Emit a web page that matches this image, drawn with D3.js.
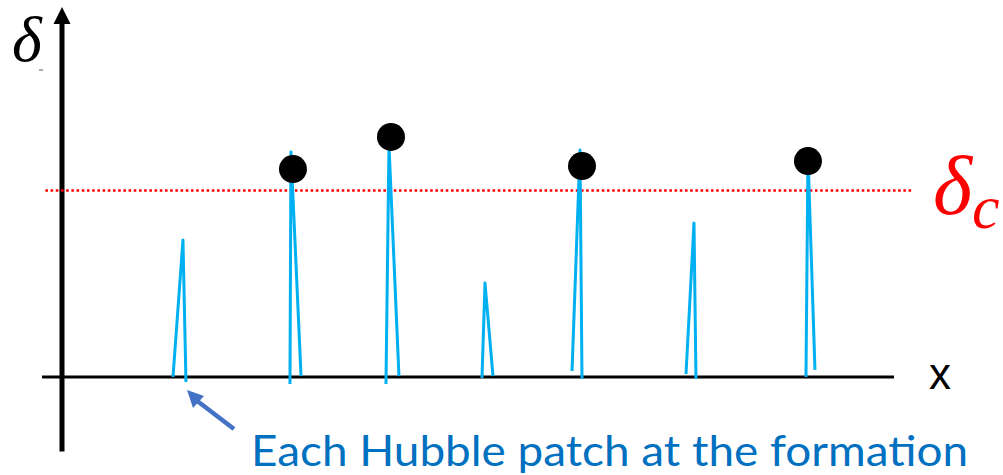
<!DOCTYPE html>
<html><head><meta charset="utf-8">
<script src="https://cdn.jsdelivr.net/npm/d3@7"></script>
<style>html,body{margin:0;padding:0;background:#fff;}svg{display:block;}</style>
</head><body>
<svg id="chart" width="1003" height="475"></svg>
<script>
// Spike (Hubble patch) profiles: left foot, peak, right foot (x in arbitrary units, delta in units of delta_c)
const leftX   = [13.34, 27.40, 38.94, 50.48, 61.30, 75.00, 89.42];
const leftD   = [0.000, -0.038, -0.038, -0.005, 0.032, 0.016, 0.000];
const peakX   = [14.54, 27.52, 39.30, 50.84, 62.26, 75.96, 89.66];
const peakD   = [0.735, 1.206, 1.244, 0.504, 1.217, 0.826, 1.190];
const rightX  = [14.90, 28.73, 40.50, 51.80, 62.50, 76.20, 90.50];
const rightD  = [-0.027, 0.005, 0.005, 0.005, -0.011, -0.011, 0.038];
// Collapsed patches (black dots)
const dotX = [27.76, 39.54, 62.50, 89.66];
const dotD = [1.115, 1.287, 1.131, 1.158];
const deltaC = 1;
const labels = {y: "δ", x: "x", c: "δ", cSub: "c", note: "Each Hubble patch at the formation"};

const svg = d3.select("#chart");
const x = d3.scaleLinear().domain([0, 100]).range([62, 894]);
const y = d3.scaleLinear().domain([0, 1]).range([377, 190.5]);

// x axis
svg.append("line").attr("x1", x(-2.4)).attr("x2", x(100)).attr("y1", y(0)).attr("y2", y(0))
  .attr("stroke", "#000").attr("stroke-width", 3);
// y axis
svg.append("line").attr("x1", x(0)).attr("x2", x(0)).attr("y1", y(-0.4)).attr("y2", 20)
  .attr("stroke", "#000").attr("stroke-width", 5);
svg.append("path").attr("d", `M${x(0)},7 L${x(0)-8.5},24 L${x(0)+8.5},24 Z`).attr("fill", "#000");

// delta_c threshold
svg.append("line").attr("x1", x(-2.0)).attr("x2", x(102.3)).attr("y1", y(deltaC)).attr("y2", y(deltaC))
  .attr("stroke", "#ff0000").attr("stroke-width", 2.5).attr("stroke-dasharray", "2.6,2.6");

// spikes
const spikes = peakX.map((p, i) => [[leftX[i], leftD[i]], [p, peakD[i]], [rightX[i], rightD[i]]]);
const line = d3.line().x(d => x(d[0])).y(d => y(d[1]));
svg.selectAll("path.spike").data(spikes).enter().append("path").attr("class", "spike")
  .attr("d", line).attr("fill", "none").attr("stroke", "#00b0f0").attr("stroke-width", 3)
  .attr("stroke-linejoin", "round");

// dots
svg.selectAll("circle.dot").data(dotX).enter().append("circle").attr("class", "dot")
  .attr("cx", d => x(d)).attr("cy", (d, i) => y(dotD[i])).attr("r", 14).attr("fill", "#000");

// labels
svg.append("text").attr("x", 12).attr("y", 61).attr("font-family", "Liberation Serif")
  .attr("font-style", "italic").attr("font-size", 64).attr("fill", "#000").text(labels.y);
svg.append("line").attr("x1", 39).attr("x2", 43).attr("y1", 70).attr("y2", 70).attr("stroke", "#555").attr("stroke-width", 1);

const dc = svg.append("text").attr("x", 933).attr("y", 214).attr("font-family", "Liberation Serif")
  .attr("font-style", "italic").attr("font-size", 84).attr("fill", "#ff0000");
dc.append("tspan").text(labels.c);
dc.append("tspan").attr("font-size", 62).attr("dy", 14).text(labels.cSub);

svg.append("text").attr("x", 929).attr("y", 389).attr("font-family", "Liberation Sans")
  .attr("font-size", 44).attr("fill", "#000").text(labels.x);

// arrow
svg.append("line").attr("x1", 234).attr("y1", 429).attr("x2", 196).attr("y2", 400)
  .attr("stroke", "#4472c4").attr("stroke-width", 4.5);
svg.append("path").attr("d", "M187,390 L204,396 L193,408 Z").attr("fill", "#4472c4");

svg.append("text").attr("x", 251).attr("y", 466).attr("font-family", "Lato")
  .attr("font-size", 42).attr("fill", "#0070c0")
  .attr("textLength", 717).attr("lengthAdjust", "spacingAndGlyphs").text(labels.note);
</script>
</body></html>
